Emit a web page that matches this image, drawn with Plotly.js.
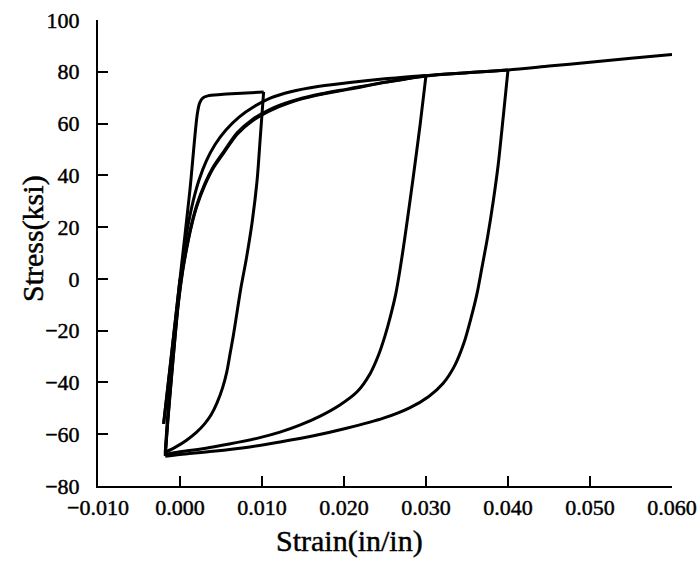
<!DOCTYPE html>
<html>
<head>
<meta charset="utf-8">
<script src="https://cdn.plot.ly/plotly-3.0.1.min.js"></script>
<style>
html,body{margin:0;padding:0;background:#fff;}
#chart{width:700px;height:562px;}
#chart svg text{stroke:#000;stroke-width:0.45px;}
</style>
</head>
<body>
<div id="chart"></div>
<script>
// Branch 0: initial elastic compression
const compressStrain = [0.0000, -0.0010, -0.0020];
const compressStress = [0.0, -28.5, -56.0];

// Branch 1: reload with yield plateau to 0.010
const monoStrain = [-0.0020, -0.0010, 0.0000, 0.0012, 0.0021, 0.0024, 0.0028, 0.0034, 0.0050, 0.0075, 0.0102];
const monoStress = [-56.0, -28.0, 0.0, 34.0, 63.5, 68.0, 69.9, 70.7, 71.2, 71.7, 72.2];

// Branch 2: unloading from 0.010 to the compressive corner
const unload1Strain = [0.0102, 0.0098, 0.0094, 0.0088, 0.0081, 0.0074, 0.0069, 0.0065, 0.0061, 0.0057, 0.0052, 0.0045, 0.0038, 0.0030, 0.0020, 0.0008, -0.0005, -0.0018];
const unload1Stress = [72.2, 55.0, 38.0, 22.0, 8.0, -4.0, -14.0, -22.0, -29.0, -36.0, -42.0, -48.0, -52.5, -56.0, -59.3, -62.3, -64.9, -67.0];

// Branch 3: reload to 0.030
const reload1Strain = [-0.0018, -0.0015, -0.0011, -0.0006, 0.0000, 0.0005, 0.0010, 0.0016, 0.0023, 0.0032, 0.0043, 0.0056, 0.0072, 0.0090, 0.0110, 0.0135, 0.0170, 0.0207, 0.0250, 0.0300];
const reload1Stress = [-67.0, -53.0, -38.0, -20.0, -2.0, 11.0, 21.0, 30.0, 38.0, 45.5, 52.0, 57.5, 62.5, 66.5, 69.8, 72.3, 74.4, 75.9, 77.3, 78.6];

// Branch 4: unloading from 0.030
const unload2Strain = [0.0300, 0.0293, 0.0286, 0.0280, 0.0274, 0.0268, 0.0263, 0.0257, 0.0250, 0.0242, 0.0232, 0.0216, 0.0195, 0.0171, 0.0146, 0.0122, 0.0095, 0.0060, 0.0030, 0.0000, -0.0018];
const unload2Stress = [78.6, 60.0, 43.0, 29.0, 15.5, 3.0, -6.0, -14.0, -22.0, -29.5, -36.5, -43.6, -48.7, -53.0, -56.5, -59.2, -61.5, -63.8, -65.5, -66.8, -67.8];

// Branch 5: reload to 0.040
const reload2Strain = [-0.0018, -0.0015, -0.0011, -0.0006, -0.0002, 0.0003, 0.0008, 0.0014, 0.0021, 0.0030, 0.0041, 0.0054, 0.0070, 0.0088, 0.0110, 0.0135, 0.0165, 0.0207, 0.0250, 0.0300, 0.0350, 0.0400];
const reload2Stress = [-67.8, -55.0, -40.0, -22.0, -9.0, 3.0, 12.0, 21.0, 29.0, 36.5, 43.5, 49.5, 56.5, 61.5, 65.5, 68.5, 71.0, 73.5, 76.0, 78.5, 79.6, 80.7];

// Branch 6: unloading from 0.040
const unload3Strain = [0.0400, 0.0394, 0.0388, 0.0382, 0.0375, 0.0368, 0.0362, 0.0355, 0.0346, 0.0335, 0.0321, 0.0303, 0.0280, 0.0248, 0.0203, 0.0163, 0.0122, 0.0085, 0.0040, 0.0000, -0.0018];
const unload3Stress = [80.7, 62.0, 44.0, 30.0, 16.0, 4.0, -6.0, -15.0, -25.0, -33.5, -40.3, -45.5, -49.8, -53.8, -57.7, -60.6, -63.0, -64.9, -66.6, -67.8, -68.5];

// Branch 7: final reload to 0.060
const reload3Strain = [-0.0018, -0.0015, -0.0011, -0.0006, -0.0002, 0.0003, 0.0008, 0.0014, 0.0021, 0.0030, 0.0041, 0.0054, 0.0070, 0.0088, 0.0110, 0.0135, 0.0165, 0.0207, 0.0250, 0.0300, 0.0350, 0.0400, 0.0450, 0.0500, 0.0550, 0.0600];
const reload3Stress = [-68.5, -55.5, -40.5, -22.5, -9.5, 2.5, 11.5, 20.5, 28.5, 36.0, 43.0, 49.0, 56.0, 61.0, 65.0, 68.2, 70.8, 73.3, 75.9, 78.4, 79.6, 80.7, 82.2, 83.7, 85.2, 86.7];

const xTicks = [-0.010, 0.000, 0.010, 0.020, 0.030, 0.040, 0.050, 0.060];
const yTicks = [-80, -60, -40, -20, 0, 20, 40, 60, 80, 100];
const xTitle = 'Strain(in/in)';
const yTitle = 'Stress(ksi)';

const branches = [
  [compressStrain, compressStress],
  [monoStrain, monoStress],
  [unload1Strain, unload1Stress],
  [reload1Strain, reload1Stress],
  [unload2Strain, unload2Stress],
  [reload2Strain, reload2Stress],
  [unload3Strain, unload3Stress],
  [reload3Strain, reload3Stress]
];

const traces = branches.map(function (b) {
  return {
    x: b[0], y: b[1], type: 'scatter', mode: 'lines',
    line: {color: '#000', width: 3, shape: 'spline', smoothing: 0.8},
    hoverinfo: 'x+y', showlegend: false
  };
});

const fam = 'Liberation Serif, Times New Roman, serif';
const tickFont = {family: fam, size: 22, color: '#000'};
const titleFont = {family: fam, size: 30, color: '#000'};

const layout = {
  width: 700, height: 562,
  margin: {l: 98, r: 28, t: 20, b: 76, pad: 0},
  paper_bgcolor: '#fff', plot_bgcolor: '#fff',
  showlegend: false,
  xaxis: {
    range: [-0.010, 0.060], tickvals: xTicks, tickformat: '.3f',
    ticks: 'inside', ticklen: 10, tickwidth: 2, tickcolor: '#000',
    showline: true, linewidth: 2, linecolor: '#000',
    showgrid: false, zeroline: false, tickfont: tickFont,
    ticklabelstandoff: 1
  },
  yaxis: {
    range: [-80, 100], tickvals: yTicks,
    ticks: 'inside', ticklen: 10, tickwidth: 2, tickcolor: '#000',
    showline: true, linewidth: 2, linecolor: '#000',
    showgrid: false, zeroline: false, tickfont: tickFont,
    ticklabelstandoff: 12
  },
  annotations: [
    {text: xTitle, xref: 'paper', yref: 'paper', x: 0.4382, y: -0.118,
     xanchor: 'center', yanchor: 'middle', showarrow: false, font: titleFont},
    {text: yTitle, xref: 'paper', yref: 'paper', x: -0.1132, y: 0.530, textangle: -90,
     xanchor: 'center', yanchor: 'middle', showarrow: false, font: titleFont}
  ]
};

Plotly.newPlot('chart', traces, layout, {staticPlot: true, displayModeBar: false});
</script>
</body>
</html>
